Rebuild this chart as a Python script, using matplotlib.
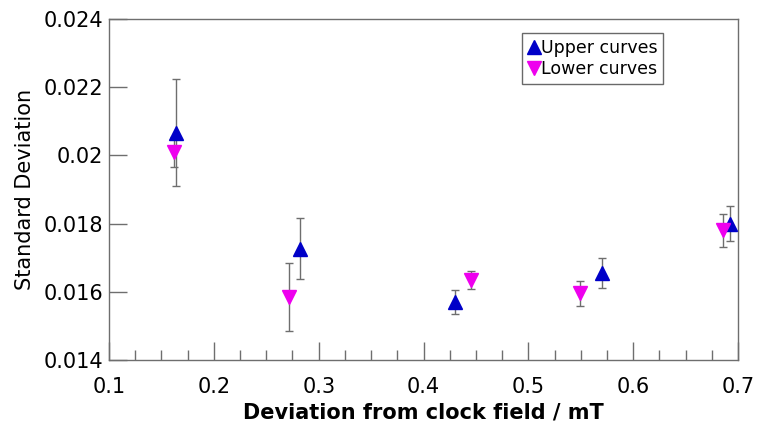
import matplotlib
matplotlib.use("Agg")
import matplotlib.pyplot as plt
from matplotlib.ticker import MultipleLocator

# deviation from clock field (mT), standard deviation and its error
upper_x = [0.164, 0.282, 0.430, 0.570, 0.692]
upper_y = [0.02066, 0.01726, 0.01571, 0.01655, 0.01800]
upper_err = [0.00157, 0.00090, 0.00035, 0.00045, 0.00050]

lower_x = [0.162, 0.272, 0.445, 0.549, 0.686]
lower_y = [0.02010, 0.01585, 0.01635, 0.01595, 0.01780]
lower_err = [0.00044, 0.00100, 0.00027, 0.00036, 0.00048]

x_ticks = [0.1, 0.2, 0.3, 0.4, 0.5, 0.6, 0.7]
y_ticks = [0.014, 0.016, 0.018, 0.02, 0.022, 0.024]
y_tick_labels = ["0.014", "0.016", "0.018", "0.02", "0.022", "0.024"]

BLUE = "#0000c8"
MAGENTA = "#ee00ee"
GREY = "#6e6e6e"


def main():
    fig = plt.figure(figsize=(7.57, 4.28), dpi=100)
    ax = fig.add_axes([0.144, 0.159, 0.831, 0.797])

    ax.errorbar(upper_x, upper_y, yerr=upper_err, fmt="none", ecolor=GREY,
                elinewidth=1.0, capsize=3, capthick=1.0, zorder=2)
    ax.errorbar(lower_x, lower_y, yerr=lower_err, fmt="none", ecolor=GREY,
                elinewidth=1.0, capsize=3, capthick=1.0, zorder=2)
    ax.plot(upper_x, upper_y, "^", color=BLUE, ms=10, mec=BLUE,
            label="Upper curves", zorder=3)
    ax.plot(lower_x, lower_y, "v", color=MAGENTA, ms=10, mec=MAGENTA,
            label="Lower curves", zorder=3)

    ax.set_xlim(0.1, 0.7)
    ax.set_ylim(0.014, 0.024)
    ax.set_xticks(x_ticks)
    ax.set_xticklabels([f"{v:g}" for v in x_ticks])
    ax.xaxis.set_minor_locator(MultipleLocator(0.025))
    ax.set_yticks(y_ticks)
    ax.set_yticklabels(y_tick_labels)

    ax.tick_params(axis="both", which="both", direction="in", colors=GREY,
                   labelcolor="black", labelsize=15, top=False, right=False)
    ax.tick_params(axis="x", which="major", length=13, width=1, pad=12)
    ax.tick_params(axis="x", which="minor", length=7, width=1)
    ax.tick_params(axis="y", which="major", length=13, width=1, pad=4)
    for s in ax.spines.values():
        s.set_color(GREY)
        s.set_linewidth(1.0)

    ax.set_xlabel("Deviation from clock field / mT", fontsize=15,
                  fontweight="bold", labelpad=4)
    ax.set_ylabel("Standard Deviation", fontsize=15, labelpad=6)

    leg = ax.legend(loc="upper right", bbox_to_anchor=(0.881, 0.959),
                    fontsize=12.5, frameon=True, fancybox=False,
                    handlelength=0.6, handletextpad=0.1, borderpad=0.35,
                    labelspacing=0.2, borderaxespad=0)
    leg.get_frame().set_edgecolor("#444444")
    leg.get_frame().set_linewidth(1.0)

    fig.savefig("out.png", dpi=100)


if __name__ == '__main__':
    main()
